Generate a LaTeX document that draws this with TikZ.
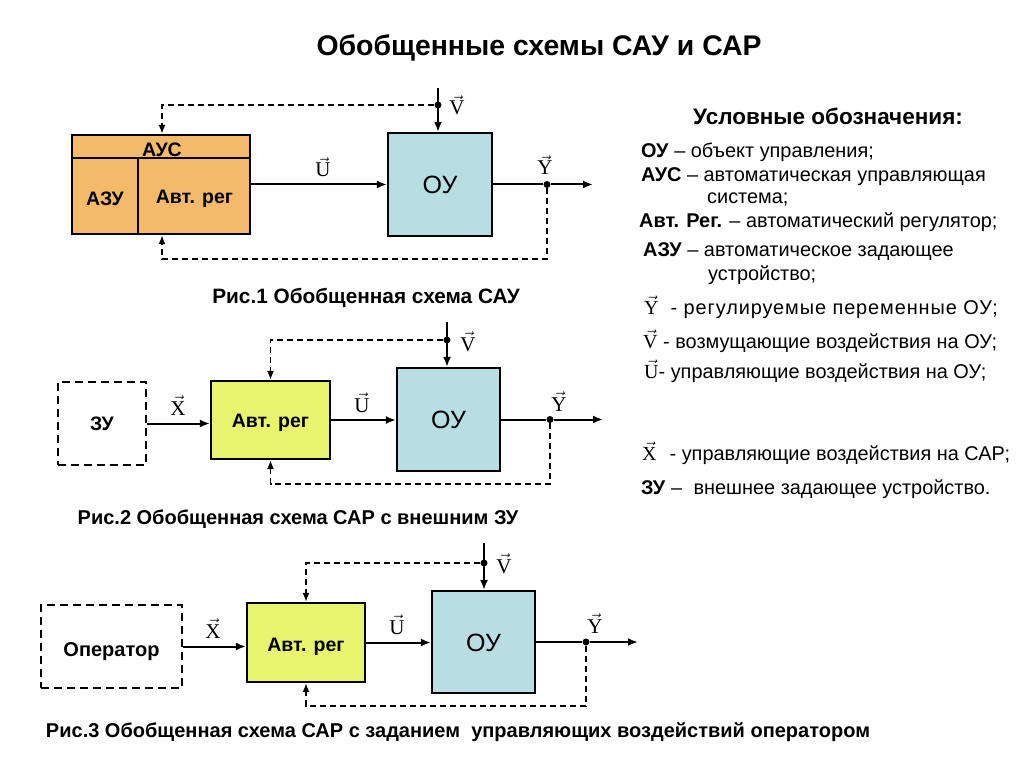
\documentclass[tikz,border=0pt]{standalone}
\usepackage{fontspec}
\setmainfont{Liberation Sans}
\newfontfamily\tms{Liberation Serif}
\usetikzlibrary{arrows.meta,calc}
\definecolor{ausfill}{HTML}{F3BA6B}
\definecolor{oufill}{HTML}{B8DEE3}
\definecolor{regfill}{HTML}{E8F46E}
\newcommand{\vvec}[1]{$\vec{\hbox{\tms #1}}$}
\newcommand{\lvec}[1]{{\fontsize{20}{24}\selectfont\vvec{#1}}}
\begin{document}
\begin{tikzpicture}[x=1pt,y=-1pt,
  blk/.style={draw, line width=2.2pt, inner sep=0pt},
  dbox/.style={draw, line width=2.2pt, dash pattern=on 8pt off 5pt, inner sep=0pt},
  ln/.style={line width=2pt, -{Latex[length=10pt,width=8pt]}},
  lnp/.style={line width=2pt},
  fb/.style={line width=1.6pt, dash pattern=on 6pt off 4pt, -{Latex[length=9pt,width=7pt]}},
  dot/.style={circle, fill=black, inner sep=0pt, minimum size=7pt},
  vl/.style={anchor=base, inner sep=0pt, font=\fontsize{21}{24}\selectfont},
  bl/.style={font=\fontsize{19.5}{23}\selectfont\bfseries, text height=14pt, text depth=0pt},
  oul/.style={font=\fontsize{25}{28}\selectfont, text height=18pt, text depth=0pt},
  captxt/.style={font=\fontsize{20}{24}\selectfont\bfseries},
  leg/.style={anchor=west, inner sep=0pt, font=\fontsize{19.9}{23}\selectfont}]
\useasboundingbox (0,0) rectangle (1024,767);

% title
\node[font=\fontsize{28.4}{32}\selectfont\bfseries] (title) at (539,48) {Обобщенные схемы САУ и САР};

% ---------- Diagram 1 ----------
\node[blk, fill=ausfill, minimum width=178pt, minimum height=99pt] (aus) at (161,184.5) {};
\draw[line width=1.6pt] ($(aus.north west)+(0,24)$) -- ($(aus.north east)+(0,24)$);
\draw[line width=1.6pt] ($(aus.north west)+(67,24)$) -- ($(aus.south west)+(67,0)$);
\node[bl, inner sep=0pt] (ausl) at (162,149.5) {АУС};
\node[bl, inner sep=0pt] (azu) at (105,198.5) {АЗУ};
\node[bl, inner sep=0pt] (reg1) at (194.5,196.5) {Авт. рег};
\node[blk, fill=oufill, minimum width=104pt, minimum height=103pt, oul] (ou1) at (440,184.5) {ОУ};
\coordinate (v1) at (438,88);
\coordinate (o1) at (593,184.5);
\coordinate (fx1) at (162,0);
\coordinate (fb1) at (547,259);
\node[dot] (d1) at (438,105) {};
\node[dot] (y1) at (547,184.5) {};
\draw[ln] (v1) -- (v1 |- ou1.north);
\draw[ln] (aus.east) -- (ou1.west);
\draw[lnp] (ou1.east) -- (y1);
\draw[ln] (y1) -- (o1);
\draw[fb] (d1) -| (fx1 |- aus.north);
\draw[fb] (y1) -- (fb1) -| (fx1 |- aus.south);
\node[vl] (lv1) at (457,115) {\vvec{V}};
\node[vl] (lu1) at (323,177) {\vvec{U}};
\node[vl] (ly1) at (545,175) {\vvec{Y}};
\node[captxt, font=\fontsize{20.8}{24}\selectfont\bfseries] (c1) at (366,298) {Рис.1 Обобщенная схема САУ};

% ---------- Diagram 2 ----------
\node[dbox, minimum width=88pt, minimum height=83pt, bl] (zu) at (102,423.5) {ЗУ};
\node[blk, fill=regfill, minimum width=119pt, minimum height=78pt, bl] (reg2) at (270.5,420) {Авт. рег};
\node[blk, fill=oufill, minimum width=103pt, minimum height=103pt, oul] (ou2) at (448.5,419.5) {ОУ};
\coordinate (v2) at (447,322);
\coordinate (o2) at (603,419.5);
\coordinate (fb2) at (550,484);
\node[dot] (d2) at (447,340) {};
\node[dot] (y2) at (550,419.5) {};
\draw[ln] (v2) -- (v2 |- ou2.north);
\draw[ln] (zu.east) -- (zu.east -| reg2.west);
\draw[ln] (reg2.east) -- (reg2.east -| ou2.west);
\draw[lnp] (ou2.east) -- (y2);
\draw[ln] (y2) -- (o2);
\draw[fb] (d2) -| (reg2.north);
\draw[fb] (y2) -- (fb2) -| (reg2.south);
\node[vl] (lx2) at (178,415) {\vvec{X}};
\node[vl] (lu2) at (362,412) {\vvec{U}};
\node[vl] (lv2) at (468,351) {\vvec{V}};
\node[vl] (ly2) at (559,411) {\vvec{Y}};
\node[captxt] (c2) at (298,519) {Рис.2 Обобщенная схема САР с внешним ЗУ};

% ---------- Diagram 3 ----------
\node[dbox, minimum width=141pt, minimum height=83pt, bl, font=\fontsize{20}{24}\selectfont\bfseries] (op) at (111.5,646.5) {\raisebox{-2.5pt}{Оператор}\hspace{10pt}};
\node[blk, fill=regfill, minimum width=118pt, minimum height=79pt, bl] (reg3) at (306,642.5) {\raisebox{-2pt}{Авт. рег}};
\node[blk, fill=oufill, minimum width=103pt, minimum height=102pt, oul] (ou3) at (483.5,642) {ОУ};
\coordinate (v3) at (484,543);
\coordinate (o3) at (638,642);
\coordinate (fb3) at (586,706);
\node[dot] (d3) at (484,563) {};
\node[dot] (y3) at (586,642) {};
\draw[ln] (v3) -- (v3 |- ou3.north);
\draw[ln] (op.east) -- (op.east -| reg3.west);
\draw[ln] (reg3.east) -- (reg3.east -| ou3.west);
\draw[lnp] (ou3.east) -- (y3);
\draw[ln] (y3) -- (o3);
\draw[fb] (d3) -| (reg3.north);
\draw[fb] (y3) -- (fb3) -| (reg3.south);
\node[vl] (lx3) at (213,638) {\vvec{X}};
\node[vl] (lu3) at (397,634) {\vvec{U}};
\node[vl] (lv3) at (504,573) {\vvec{V}};
\node[vl] (ly3) at (595,633) {\vvec{Y}};
\node[captxt] (c3) at (458,732) {Рис.3 Обобщенная схема САР с заданием\ \ управляющих воздействий оператором};

% ---------- Legend ----------
\node[font=\fontsize{22.5}{26}\selectfont\bfseries] (lh) at (828,116) {Условные обозначения:};
\node[leg] (l1) at (641,152) {\textbf{ОУ} – объект управления;};
\node[leg] (l2) at (641,177) {\textbf{АУС} – автоматическая управляющая};
\node[leg] (l3) at (707,199) {система;};
\node[leg] (l4) at (639,222) {\textbf{Авт. Рег.} – автоматический регулятор;};
\node[leg] (l5) at (643,252) {\textbf{АЗУ} – автоматическое задающее};
\node[leg] (l6) at (708,275) {устройство;};
\node[leg] (l7) at (644,307) {\lvec{Y}\hspace{12pt}{\addfontfeature{LetterSpace=4.6}- регулируемые переменные ОУ;}};
\node[leg] (l8) at (643,341) {\lvec{V} - возмущающие воздействия на ОУ;};
\node[leg] (l9) at (644,371) {\lvec{U}- управляющие воздействия на ОУ;};
\node[leg] (l10) at (642,453) {\lvec{X}\hspace{13pt}- управляющие воздействия на САР;};
\node[leg] (l11) at (641,489) {\textbf{ЗУ} –\hspace{6pt} внешнее задающее устройство.};
\end{tikzpicture}
\end{document}
